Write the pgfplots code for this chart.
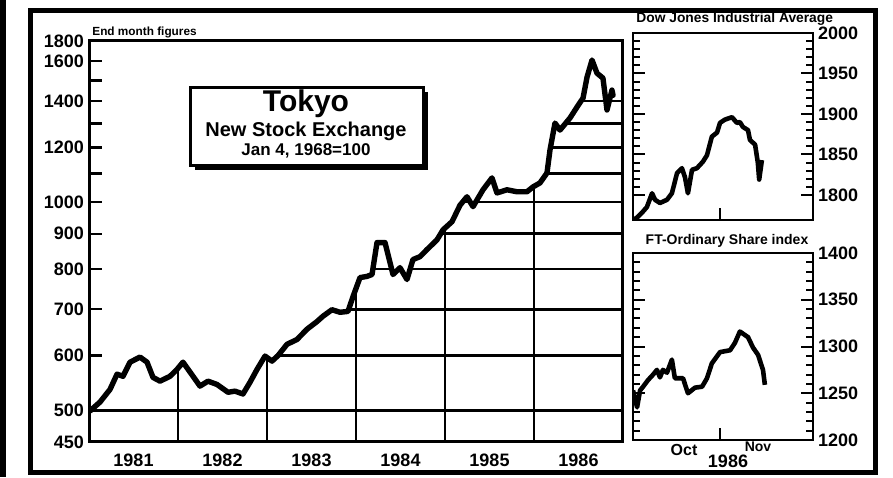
\documentclass[border=0pt]{standalone}
\usepackage{fontspec}
\setmainfont{Liberation Sans}
\usepackage{pgfplots}
\usepackage{pgfplotstable}
\pgfplotsset{compat=1.18}
\pgfplotstableread{
year value
1981.011 499
1981.124 514
1981.236 536
1981.315 564
1981.382 560
1981.461 587
1981.573 597
1981.652 587
1981.719 558
1981.798 551
1981.910 560
1981.989 573
1982.056 587
1982.135 568
1982.247 542
1982.337 551
1982.438 545
1982.562 531
1982.640 533
1982.730 528
1982.809 549
1982.888 573
1982.978 599
1983.056 589
1983.124 600
1983.225 623
1983.337 633
1983.449 655
1983.562 672
1983.629 684
1983.730 699
1983.820 693
1983.910 695
1983.966 730
1984.045 778
1984.124 781
1984.180 786
1984.236 874
1984.326 874
1984.416 786
1984.494 804
1984.573 773
1984.640 826
1984.719 834
1984.798 854
1984.910 882
1984.978 912
1985.079 937
1985.169 990
1985.247 1018
1985.315 985
1985.427 1042
1985.528 1084
1985.584 1031
1985.697 1042
1985.809 1035
1985.921 1035
1985.989 1052
1986.067 1066
1986.146 1102
1986.180 1190
1986.236 1301
1986.292 1271
1986.404 1323
1986.483 1372
1986.551 1414
1986.596 1516
1986.652 1605
1986.708 1536
1986.775 1511
1986.820 1359
1986.876 1452
1986.888 1427
}\tokyo
% same curve, closed over the top of the plot area (white mask over the grid)
\pgfplotstableread{
year value
1981 1710
1981 499
1981.011 499
1981.124 514
1981.236 536
1981.315 564
1981.382 560
1981.461 587
1981.573 597
1981.652 587
1981.719 558
1981.798 551
1981.910 560
1981.989 573
1982.056 587
1982.135 568
1982.247 542
1982.337 551
1982.438 545
1982.562 531
1982.640 533
1982.730 528
1982.809 549
1982.888 573
1982.978 599
1983.056 589
1983.124 600
1983.225 623
1983.337 633
1983.449 655
1983.562 672
1983.629 684
1983.730 699
1983.820 693
1983.910 695
1983.966 730
1984.045 778
1984.124 781
1984.180 786
1984.236 874
1984.326 874
1984.416 786
1984.494 804
1984.573 773
1984.640 826
1984.719 834
1984.798 854
1984.910 882
1984.978 912
1985.079 937
1985.169 990
1985.247 1018
1985.315 985
1985.427 1042
1985.528 1084
1985.584 1031
1985.697 1042
1985.809 1035
1985.921 1035
1985.989 1052
1986.067 1066
1986.146 1102
1986.180 1190
1986.236 1301
1986.292 1271
1986.404 1323
1986.483 1372
1986.551 1414
1986.596 1516
1986.652 1605
1986.708 1536
1986.775 1511
1986.820 1359
1986.876 1452
1986.888 1427
1987 1427
1987 1710
}\tokyomask
\begin{document}
\begin{tikzpicture}
\path[use as bounding box] (0pt,0pt) rectangle (446.5pt,-238.5pt);

% grid lines, then blanked out above the curve
\begin{axis}[
  at={(44.5pt,-221pt)}, anchor=south west,
  width=267pt, height=200.5pt, scale only axis,
  ymode=log, log basis y=10,
  xmin=1981, xmax=1987, ymin=450, ymax=1710,
  xtick={1982,1983,1984,1985,1986}, xticklabels={},
  ytick={500,600,700,800,900,1000,1100,1200,1300,1400}, yticklabels={},
  xmajorgrids, ymajorgrids,
  major tick length=0pt,
  major grid style={black,line width=1.3pt},
  axis line style={draw=none},
]
\addplot[fill=white, draw=none, mark=none] table[x=year,y=value] {\tokyomask};
\end{axis}

% frame, ticks, labels and the Tokyo curve
\begin{axis}[
  at={(44.5pt,-221pt)}, anchor=south west,
  width=267pt, height=200.5pt, scale only axis,
  ymode=log, log basis y=10,
  xmin=1981, xmax=1987, ymin=450, ymax=1710,
  xtick={1981.5,1982.5,1983.5,1984.5,1985.5,1986.5},
  xticklabels={1981,1982,1983,1984,1985,1986},
  xtick style={draw=none},
  ytick={450,500,600,700,800,900,1000,1100,1200,1300,1400,1500,1600,1710},
  yticklabels={450,500,600,700,800,900,1000,,1200,,1400,,1600,1800},
  ytick pos=left, tick align=inside,
  major tick length=6.5pt,
  ytick style={black,line width=1.2pt},
  axis line style={line width=1.5pt},
  ticklabel style={font=\bfseries\fontsize{9}{9}\selectfont},
  xticklabel style={yshift=-2.5pt},
  yticklabel style={xshift=1pt},
]
\addplot[black, line width=2.7pt, line join=round, line cap=round, mark=none]
  table[x=year,y=value] {\tokyo};
\end{axis}

% Dow Jones
\begin{axis}[
  at={(316.5pt,-110pt)}, anchor=south west,
  width=90pt, height=93.5pt, scale only axis,
  xmin=0, xmax=66.2, ymin=1769, ymax=2000,
  xtick={32}, xticklabels={}, xtick pos=left,
  ytick={1800,1850,1900,1950,2000},
  yticklabels={1800,1850,1900,1950,2000},
  minor y tick num=4,
  yticklabel pos=right, ytick pos=both, tick align=inside,
  major tick length=6pt, minor tick length=3.5pt,
  tick style={black, line width=1pt},
  axis line style={line width=1.2pt},
  yticklabel style={font=\bfseries\fontsize{9}{9}\selectfont, xshift=-1pt},
]
\addplot[black, line width=2.3pt, line join=round, mark=none] coordinates {
(0.5,1770) (1.5,1772) (3.3,1778) (5.1,1785) (7.0,1802) (8.1,1794) (9.9,1790)
(12.5,1794) (14.3,1802) (16.2,1827) (18.0,1833) (19.1,1822) (20.2,1802)
(21.7,1831) (23.5,1833) (25.7,1841) (27.2,1849) (29.0,1872) (30.9,1877)
(32.0,1889) (33.8,1893) (36.4,1896) (38.2,1889) (39.3,1890) (40.4,1884)
(42.3,1880) (43.0,1868) (44.9,1862) (45.9,1840) (46.4,1819) (47.4,1843)
};
\end{axis}

% FT-Ordinary
\begin{axis}[
  at={(316.5pt,-220pt)}, anchor=south west,
  width=90pt, height=93.5pt, scale only axis,
  xmin=0, xmax=66.2, ymin=1200, ymax=1400,
  xtick={32}, xticklabels={}, xtick pos=left,
  ytick={1200,1250,1300,1350,1400},
  yticklabels={1200,1250,1300,1350,1400},
  minor y tick num=4,
  yticklabel pos=right, ytick pos=both, tick align=inside,
  major tick length=6pt, minor tick length=3.5pt,
  tick style={black, line width=1pt},
  axis line style={line width=1.2pt},
  yticklabel style={font=\bfseries\fontsize{9}{9}\selectfont, xshift=-1pt},
]
\addplot[black, line width=2.3pt, line join=round, mark=none] coordinates {
(0,1253) (1.5,1235) (2.6,1253) (3.7,1257) (5.5,1264) (7.4,1270) (8.8,1275)
(9.9,1267) (11.0,1275) (12.5,1272) (14.3,1286) (15.4,1266) (18.4,1266)
(20.2,1250) (22.8,1256) (25.4,1257) (27.2,1266) (29.0,1282) (32.0,1294)
(35.7,1296) (37.5,1304) (39.3,1316) (42.3,1310) (44.1,1299) (46.0,1291)
(47.8,1275) (48.5,1259)
};
\end{axis}

% titles and notes
\node[anchor=west, font=\bfseries\fontsize{5.9}{6}\selectfont, inner sep=0pt] at (46pt,-16pt) {End month figures};
\node[anchor=west, font=\bfseries\fontsize{6.9}{7}\selectfont, inner sep=0pt] at (318pt,-9.5pt) {Dow Jones Industrial Average};
\node[font=\bfseries\fontsize{7}{7.5}\selectfont, inner sep=0pt] at (363.5pt,-120.5pt) {FT-Ordinary Share index};
\node[font=\bfseries\fontsize{8}{8}\selectfont, inner sep=0pt] at (342pt,-225pt) {Oct};
\node[font=\bfseries\fontsize{9}{9}\selectfont, inner sep=0pt] at (364pt,-230.5pt) {1986};
\node[font=\bfseries\fontsize{7}{7}\selectfont, inner sep=0pt] at (379pt,-223.5pt) {Nov};

% Tokyo box with shadow
\fill (97.5pt,-46pt) rectangle (214pt,-85pt);
\filldraw[fill=white, line width=1.5pt] (95pt,-43.5pt) rectangle (211.5pt,-82.5pt);
\node[font=\bfseries\fontsize{15}{15}\selectfont, inner sep=0pt] at (153pt,-52pt) {Tokyo};
\node[font=\bfseries\fontsize{10}{10}\selectfont, inner sep=0pt] at (153pt,-65.5pt) {New Stock Exchange};
\node[font=\bfseries\fontsize{8.5}{8.5}\selectfont, inner sep=0pt] at (153pt,-75.5pt) {Jan 4, 1968=100};

% frame
\draw[line width=2.5pt] (15pt,-5pt) rectangle (437.5pt,-236pt);
\fill (0pt,0pt) rectangle (3pt,-238.5pt);
\end{tikzpicture}
\end{document}
